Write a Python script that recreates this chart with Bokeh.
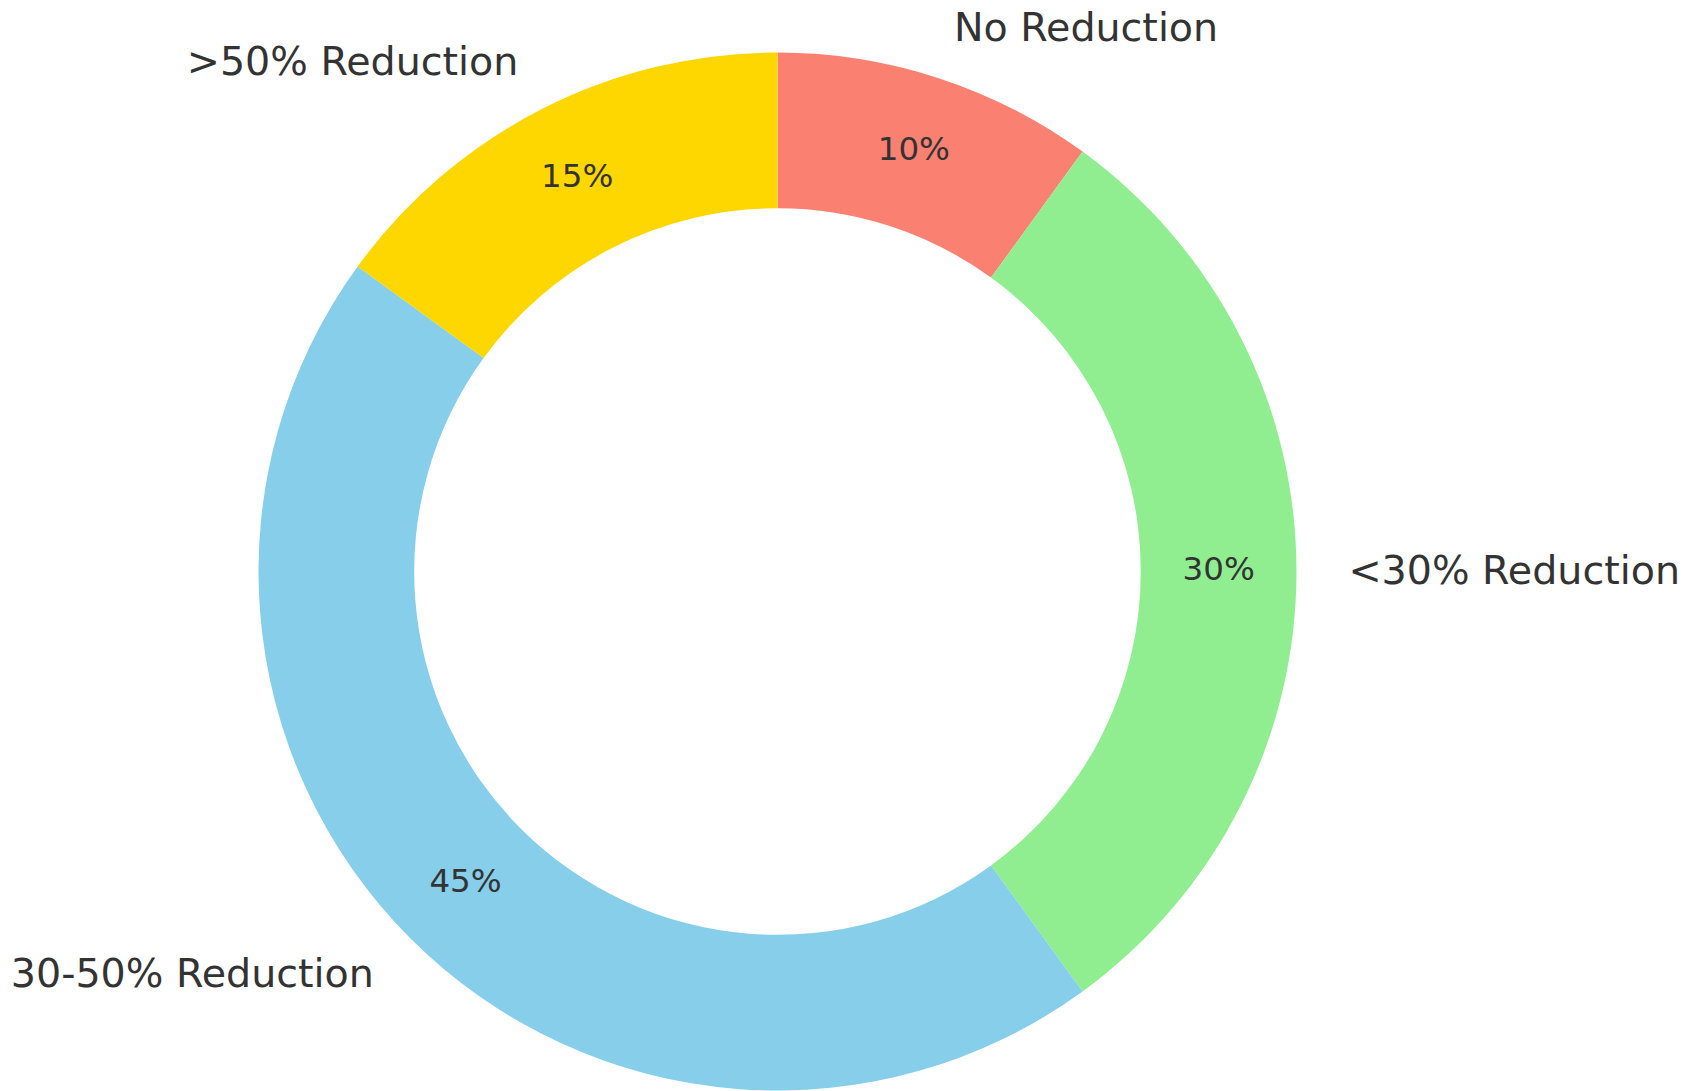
import numpy as np
from bokeh.plotting import figure
from bokeh.models import ColumnDataSource, Range1d
from bokeh.core.properties import value
from bokeh.embed import file_html
from bokeh.resources import INLINE

categories = ["No Reduction", "<30% Reduction", "30-50% Reduction", ">50% Reduction"]
shares = [10, 30, 45, 15]
colors = ["#FA8072", "#90EE90", "#87CEEB", "#FFD700"]

vals = np.array(shares, dtype=float)
frac = vals / vals.sum()
cum_end = np.cumsum(frac) * 2 * np.pi
cum_start = cum_end - frac * 2 * np.pi
start_top = np.pi / 2
# clockwise from the top
ends = start_top - cum_start
starts = start_top - cum_end
mids = (starts + ends) / 2

R = 1.0
W = 0.3
src = ColumnDataSource(dict(start=starts, end=ends, color=colors, cat=categories))

p = figure(width=1685, height=1091, output_backend="svg", toolbar_location=None,
           x_range=Range1d(-777 / 519, (1685 - 777) / 519),
           y_range=Range1d(-(1091 - 571) / 519, 571 / 519),
           min_border=0)
p.axis.visible = False
p.grid.visible = False
p.outline_line_color = None
p.background_fill_color = "white"

p.annular_wedge(x=0, y=0, inner_radius=R - W, outer_radius=R,
                start_angle="start", end_angle="end", color="color",
                line_color=None, source=src)

lx = 1.1 * R * np.cos(mids)
ly = 1.1 * R * np.sin(mids)
align = ["left" if v > 0 else "right" for v in lx]
lab = ColumnDataSource(dict(x=lx, y=ly, t=categories, a=align))
p.text(x="x", y="y", text="t", text_align="a", text_baseline="middle",
       text_font=value("DejaVu Sans"), text_font_size="39.6px",
       text_color="#333333", y_offset=-2, source=lab)

px = 0.85 * R * np.cos(mids)
py = 0.85 * R * np.sin(mids)
pct = ["%d%%" % v for v in shares]
pl = ColumnDataSource(dict(x=px, y=py, t=pct))
p.text(x="x", y="y", text="t", text_align="center", text_baseline="middle",
       text_font=value("DejaVu Sans"), text_font_size="32.5px",
       text_color="#333333", y_offset=-2.5, source=pl)

open("out.html", "w").write(file_html(p, INLINE))
